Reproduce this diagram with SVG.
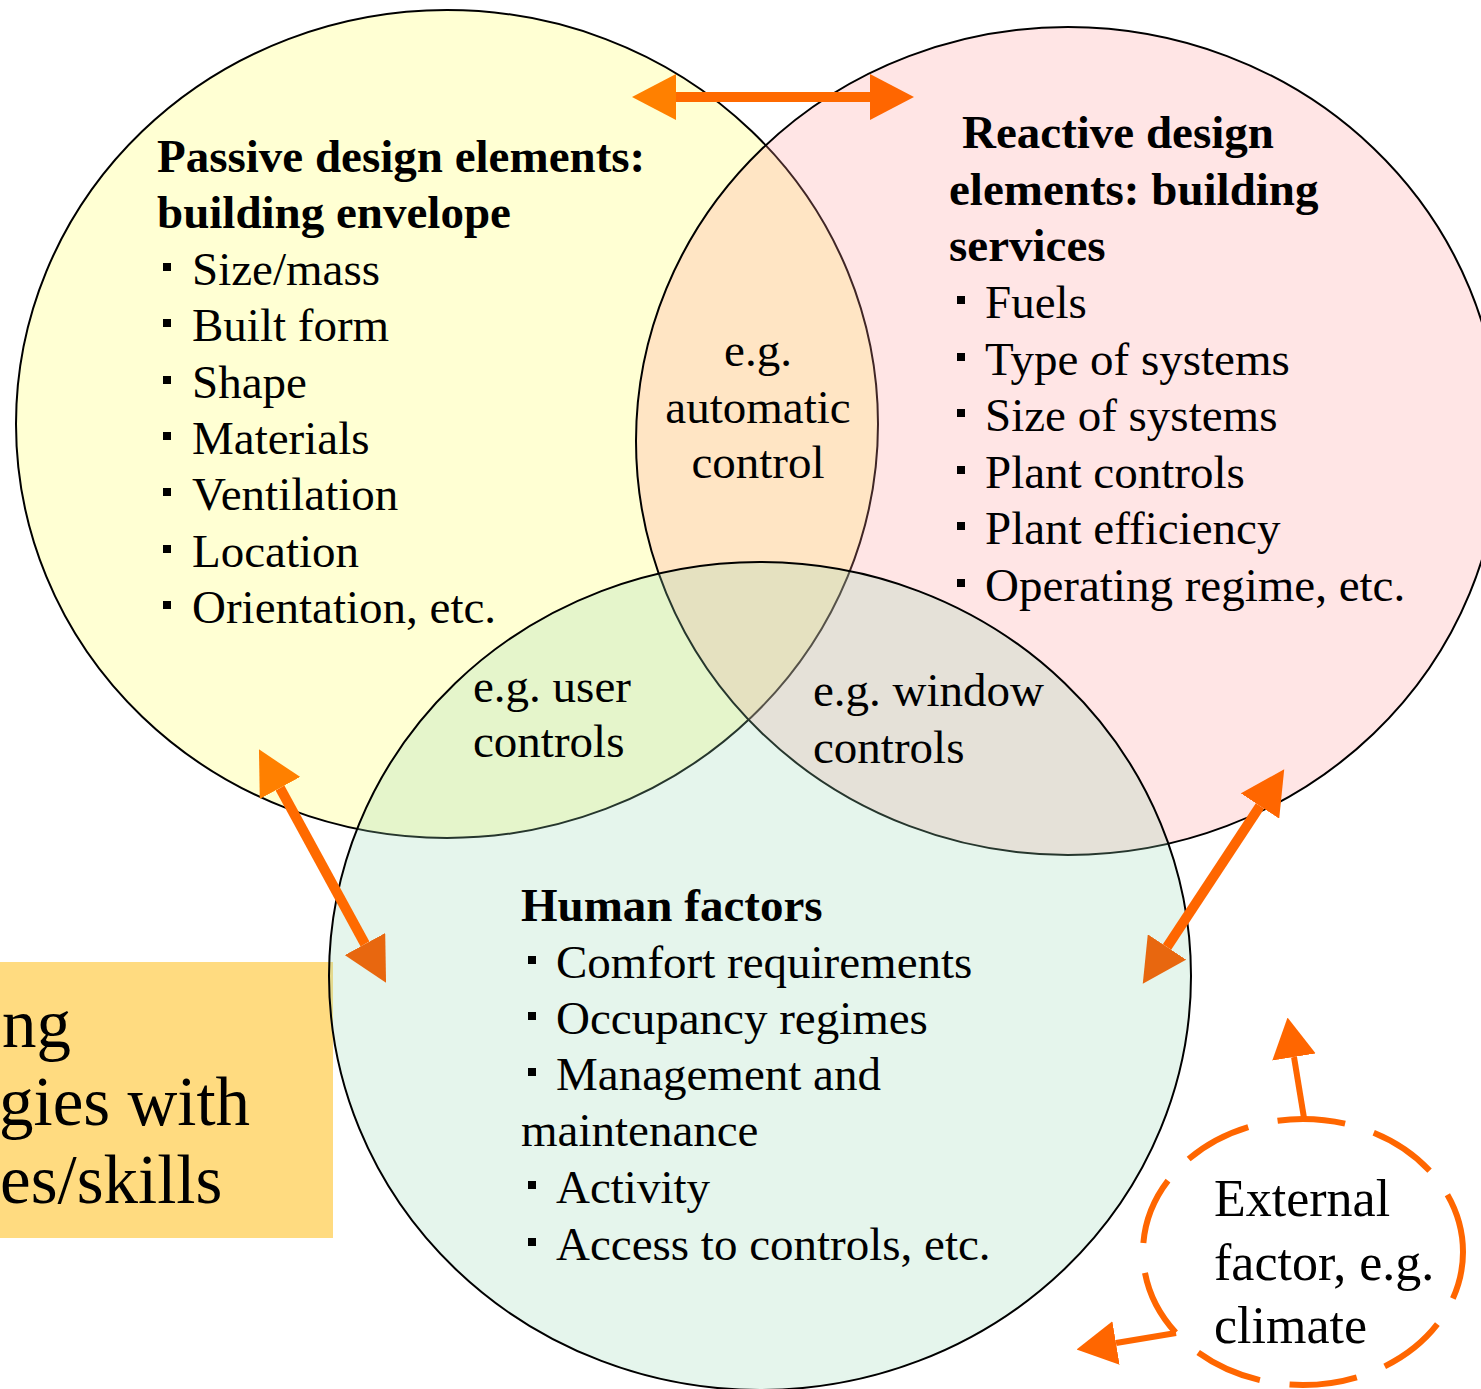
<svg xmlns="http://www.w3.org/2000/svg" width="1481" height="1389" viewBox="0 0 1481 1389">
  <style>
    .t { font-family: "Liberation Serif", "Times New Roman", serif; font-size: 47px; fill: #000; }
    .b { font-weight: bold; }
    .big { font-size: 69px; }
    .ext { font-size: 52px; }
    .ring { stroke: #000; stroke-width: 2; }
    .bullet { fill: #000; }
    .shaft { fill: none; stroke-width: 10; }
  </style>
  <defs>
    <marker id="headLight" markerUnits="userSpaceOnUse" viewBox="0 0 44 46" refX="0" refY="23" markerWidth="44" markerHeight="46" orient="auto-start-reverse">
      <path d="M0,0 L44,23 L0,46 z" fill="#FF8000"/>
    </marker>
    <marker id="headMid" markerUnits="userSpaceOnUse" viewBox="0 0 44 46" refX="0" refY="23" markerWidth="44" markerHeight="46" orient="auto-start-reverse">
      <path d="M0,0 L44,23 L0,46 z" fill="#FF6600"/>
    </marker>
    <marker id="headDark" markerUnits="userSpaceOnUse" viewBox="0 0 44 46" refX="0" refY="23" markerWidth="44" markerHeight="46" orient="auto-start-reverse">
      <path d="M0,0 L44,23 L0,46 z" fill="#E8670F"/>
    </marker>
    <marker id="headSmall" markerUnits="userSpaceOnUse" viewBox="0 0 40 44" refX="0" refY="22" markerWidth="40" markerHeight="44" orient="auto">
      <path d="M0,0 L40,22 L0,44 z" fill="#FF6600"/>
    </marker>
  </defs>

  <!-- partially visible side panel -->
  <g id="side-panel">
    <rect x="0" y="962" width="333" height="276" fill="#FFDB80"/>
    <text class="t big" x="2" y="1047">ng</text>
    <text class="t big" x="-1" y="1125">gies with</text>
    <text class="t big" x="0" y="1203">es/skills</text>
  </g>

  <!-- the three overlapping sets -->
  <g id="passive-design">
    <ellipse class="ring" cx="447" cy="424" rx="431" ry="414" fill="#FFFFD3"/>
  </g>
  <g id="reactive-design">
    <ellipse class="ring" cx="1068" cy="441" rx="432" ry="414" fill="#FF9999" fill-opacity="0.25"/>
  </g>
  <g id="human-factors">
    <ellipse class="ring" cx="760" cy="976" rx="431" ry="414" fill="#99D6B2" fill-opacity="0.25"/>
  </g>

  <!-- set labels -->
  <g id="passive-label">
    <text class="t b" x="157" y="172">Passive design elements:</text>
    <text class="t b" x="157" y="228">building envelope</text>
    <rect class="bullet" x="163" y="263" width="8" height="8"/>
    <text class="t" x="192" y="285">Size/mass</text>
    <rect class="bullet" x="163" y="319" width="8" height="8"/>
    <text class="t" x="192" y="341">Built form</text>
    <rect class="bullet" x="163" y="376" width="8" height="8"/>
    <text class="t" x="192" y="398">Shape</text>
    <rect class="bullet" x="163" y="432" width="8" height="8"/>
    <text class="t" x="192" y="454">Materials</text>
    <rect class="bullet" x="163" y="488" width="8" height="8"/>
    <text class="t" x="192" y="510">Ventilation</text>
    <rect class="bullet" x="163" y="545" width="8" height="8"/>
    <text class="t" x="192" y="567">Location</text>
    <rect class="bullet" x="163" y="601" width="8" height="8"/>
    <text class="t" x="192" y="623">Orientation, etc.</text>
  </g>

  <g id="reactive-label">
    <text class="t b" x="962" y="148">Reactive design</text>
    <text class="t b" x="949" y="205">elements: building</text>
    <text class="t b" x="949" y="261">services</text>
    <rect class="bullet" x="957" y="296" width="8" height="8"/>
    <text class="t" x="985" y="318">Fuels</text>
    <rect class="bullet" x="957" y="353" width="8" height="8"/>
    <text class="t" x="985" y="375">Type of systems</text>
    <rect class="bullet" x="957" y="409" width="8" height="8"/>
    <text class="t" x="985" y="431">Size of systems</text>
    <rect class="bullet" x="957" y="466" width="8" height="8"/>
    <text class="t" x="985" y="488">Plant controls</text>
    <rect class="bullet" x="957" y="522" width="8" height="8"/>
    <text class="t" x="985" y="544">Plant efficiency</text>
    <rect class="bullet" x="957" y="579" width="8" height="8"/>
    <text class="t" x="985" y="601">Operating regime, etc.</text>
  </g>

  <g id="human-label">
    <text class="t b" x="521" y="921">Human factors</text>
    <rect class="bullet" x="528" y="956" width="8" height="8"/>
    <text class="t" x="556" y="978">Comfort requirements</text>
    <rect class="bullet" x="528" y="1012" width="8" height="8"/>
    <text class="t" x="556" y="1034">Occupancy regimes</text>
    <rect class="bullet" x="528" y="1068" width="8" height="8"/>
    <text class="t" x="556" y="1090">Management and</text>
    <text class="t" x="521" y="1146">maintenance</text>
    <rect class="bullet" x="528" y="1181" width="8" height="8"/>
    <text class="t" x="556" y="1203">Activity</text>
    <rect class="bullet" x="528" y="1238" width="8" height="8"/>
    <text class="t" x="556" y="1260">Access to controls, etc.</text>
  </g>

  <!-- overlap labels -->
  <g id="overlap-automatic">
    <text class="t" x="758" y="366" text-anchor="middle">e.g.</text>
    <text class="t" x="758" y="423" text-anchor="middle">automatic</text>
    <text class="t" x="758" y="478" text-anchor="middle">control</text>
  </g>
  <g id="overlap-user">
    <text class="t" x="473" y="702">e.g. user</text>
    <text class="t" x="473" y="757">controls</text>
  </g>
  <g id="overlap-window">
    <text class="t" x="813" y="706">e.g. window</text>
    <text class="t" x="813" y="763">controls</text>
  </g>

  <!-- external influence -->
  <g id="external-factor">
    <ellipse cx="1303" cy="1252" rx="160" ry="133" fill="none" stroke="#FF6600" stroke-width="6" stroke-dasharray="68 30" stroke-dashoffset="20"/>
    <text class="t ext" x="1214" y="1216">External</text>
    <text class="t ext" x="1214" y="1280">factor, e.g.</text>
    <text class="t ext" x="1214" y="1343">climate</text>
  </g>

  <!-- interaction arrows -->
  <g id="connectors">
    <line class="shaft" x1="676" y1="97" x2="870" y2="97" stroke="#FF6A00" marker-start="url(#headLight)" marker-end="url(#headMid)"/>
    <line class="shaft" x1="280" y1="788" x2="365" y2="944" stroke="#FF6A00" marker-start="url(#headLight)" marker-end="url(#headDark)"/>
    <line class="shaft" x1="1260" y1="806" x2="1167" y2="947" stroke="#FF6600" marker-start="url(#headMid)" marker-end="url(#headDark)"/>
    <line fill="none" stroke="#FF6600" stroke-width="6" x1="1304" y1="1118" x2="1294" y2="1057" marker-end="url(#headSmall)"/>
    <line fill="none" stroke="#FF6600" stroke-width="6" x1="1176" y1="1333" x2="1116" y2="1343" marker-end="url(#headSmall)"/>
  </g>
</svg>
